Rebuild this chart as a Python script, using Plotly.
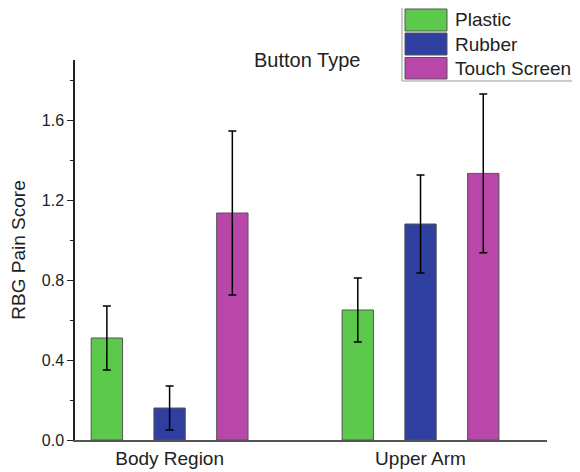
import plotly.graph_objects as go

categories = ["Body Region", "Upper Arm"]
series_names = ["Plastic", "Rubber", "Touch Screen"]
plastic = [0.51, 0.65]
plastic_err = [0.16, 0.16]
rubber = [0.16, 1.08]
rubber_err = [0.11, 0.245]
touch = [1.135, 1.333]
touch_err = [0.41, 0.397]
y_ticks = [0.0, 0.4, 0.8, 1.2, 1.6]

colors = ["#5CC94C", "#2E3FA0", "#B947AA"]
values = [plastic, rubber, touch]
errors = [plastic_err, rubber_err, touch_err]

FONT = "Liberation Sans, Arial, sans-serif"
OFF = 8  # page body margin
W, H = 580 - OFF, 472 - OFF
L, T = 75 - OFF, 60 - OFF
R = W - (547 - OFF)
B = H - (440 - OFF)
PW, PH = W - L - R, H - T - B

def px(x):
    return (x - OFF - L) / PW

def py(y):
    return (H - B - (y - OFF)) / PH

fig = go.Figure()
for name, vals, errs, col in zip(series_names, values, errors, colors):
    fig.add_trace(go.Bar(
        x=categories, y=vals, name=name,
        marker=dict(color=col, line=dict(color="#555555", width=1)),
        error_y=dict(type="data", array=errs, visible=True, color="black",
                     thickness=1.5, width=4),
        showlegend=False,
    ))

fig.update_layout(
    width=W, height=H,
    margin=dict(l=L, r=R, t=T, b=B, autoexpand=False),
    paper_bgcolor="white", plot_bgcolor="white",
    barmode="group", bargap=0.25, bargroupgap=0.5,
    font=dict(family=FONT, size=19, color="#222222"),
    xaxis=dict(range=[-0.377, 1.504], showline=True, linecolor="#555555",
               linewidth=1.5, ticks="", showgrid=False, zeroline=False,
               automargin=False,
               tickfont=dict(size=19, color="#222222")),
    yaxis=dict(range=[0, 1.9], tickvals=y_ticks, tickformat=".1f",
               showline=True, linecolor="#222222", linewidth=1.5,
               ticks="outside", ticklen=6, tickwidth=1.2, tickcolor="#222222",
               minor=dict(dtick=0.2, ticks="outside", ticklen=3,
                          tickcolor="#222222", tickwidth=1.2),
               showgrid=False, zeroline=False, automargin=False,
               tickfont=dict(size=16, color="#222222"),
               title=dict(text="RBG Pain Score", font=dict(size=19), standoff=19)),
)

# title annotation
fig.add_annotation(x=px(306.5), y=py(60), xref="paper", yref="paper",
                   text="Button Type", showarrow=False,
                   font=dict(size=20, family=FONT, color="#222222"),
                   xanchor="center", yanchor="middle")

# manual legend
fig.add_shape(type="rect", xref="paper", yref="paper",
              x0=px(402), x1=px(577), y0=py(81), y1=py(6),
              line=dict(color="#999999", width=1), fillcolor="white")
rows = [(9, 31), (33, 55), (57.5, 79)]
for (y0, y1), name, col in zip(rows, series_names, colors):
    fig.add_shape(type="rect", xref="paper", yref="paper",
                  x0=px(405), x1=px(447), y0=py(y1), y1=py(y0),
                  line=dict(color="#555555", width=1), fillcolor=col)
    fig.add_annotation(x=px(453), y=py((y0 + y1) / 2), xref="paper", yref="paper",
                       text=name, showarrow=False, xanchor="left", yanchor="middle",
                       font=dict(size=19, family=FONT, color="#222222"))

fig.write_html("out.html")
